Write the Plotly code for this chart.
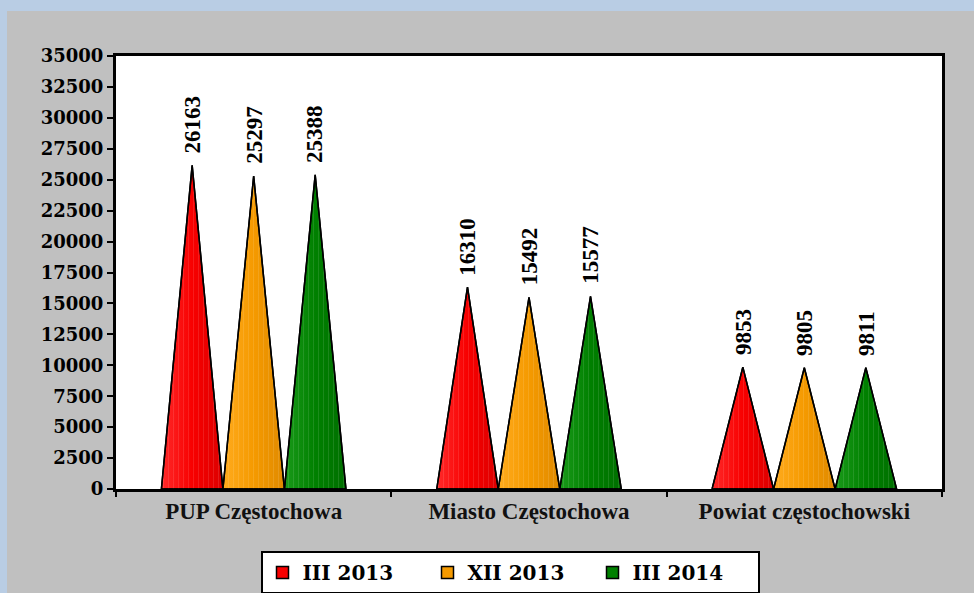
import plotly.graph_objects as go

categories = ["PUP Częstochowa", "Miasto Częstochowa", "Powiat częstochowski"]
series_names = ["III 2013", "XII 2013", "III 2014"]
values_iii_2013 = [26163, 16310, 9853]
values_xii_2013 = [25297, 15492, 9805]
values_iii_2014 = [25388, 15577, 9811]
y_ticks = list(range(0, 35001, 2500))

series_values = [values_iii_2013, values_xii_2013, values_iii_2014]
base_colors = ["#f80000", "#f59a00", "#008000"]
light_colors = ["#ff2a2a", "#ffab1e", "#1a9a1a"]
dark_colors = ["#dc0000", "#e08a00", "#006f00"]

bar_w = 0.2234
offsets = [-bar_w, 0.0, bar_w]

fig = go.Figure()

for s, vals in enumerate(series_values):
    for ci, v in enumerate(vals):
        c = ci + offsets[s]
        xs = [c - bar_w / 2, c, c + bar_w / 2, c - bar_w / 2]
        ys = [0, v, 0, 0]
        fig.add_trace(go.Scatter(
            x=xs, y=ys, mode="lines", fill="toself",
            fillgradient=dict(type="horizontal",
                              colorscale=[[0, light_colors[s]], [0.5, base_colors[s]], [1, dark_colors[s]]]),
            line=dict(color="black", width=1.5),
            showlegend=False, hoverinfo="skip"))
        fig.add_trace(go.Scatter(
            x=xs, y=ys, mode="lines", fill="toself",
            fillcolor="rgba(0,0,0,0)",
            fillpattern=dict(shape="|", fgcolor="rgba(255,255,255,0.35)", bgcolor="rgba(0,0,0,0)",
                             size=5, solidity=0.12),
            line=dict(color="black", width=1.5),
            showlegend=False, hoverinfo="skip"))
        fig.add_annotation(x=c, y=v, xref="x", yref="y", text=str(v), textangle=-90,
                           showarrow=False, yanchor="bottom", xanchor="center", yshift=10,
                           font=dict(family="Liberation Serif", size=23, color="black", weight="bold"))

for s, name in enumerate(series_names):
    fig.add_trace(go.Scatter(
        x=[None], y=[None], mode="markers", name=name,
        marker=dict(symbol="square", size=12, color=base_colors[s], line=dict(color="black", width=1.5))))

L, R, T, B = 116, 32, 56, 104
W, H = 974, 593
pw, ph = W - L - R, H - T - B

def px_x(p):
    return (p - L) / pw

def px_y(p):
    return (H - B - p) / ph

fig.add_shape(type="rect", xref="paper", yref="paper", layer="below",
              x0=px_x(7), x1=px_x(980), y0=px_y(600), y1=px_y(11),
              fillcolor="#c0c0c0", line=dict(width=0))
fig.add_shape(type="rect", xref="paper", yref="paper", layer="below",
              x0=0, x1=1, y0=0, y1=1, fillcolor="white", line=dict(width=0))

fig.update_layout(
    width=W, height=H,
    margin=dict(l=L, r=R, t=T, b=B, autoexpand=False),
    paper_bgcolor="#b9cde4",
    plot_bgcolor="white",
    showlegend=True,
    legend=dict(orientation="h", x=px_x(510), xanchor="center", y=px_y(551), yanchor="top",
                bgcolor="white", bordercolor="black", borderwidth=2,
                font=dict(family="DejaVu Serif", size=20, color="black", weight="bold"),
                entrywidth=120, itemwidth=30, traceorder="normal"),
    xaxis=dict(range=[-0.5, 2.5], tickmode="array", tickvals=[0, 1, 2], ticktext=categories,
               ticks="", showgrid=False, zeroline=False, showline=True, linecolor="black",
               linewidth=2.5, mirror=True, automargin=False,
               tickfont=dict(family="Liberation Serif", size=23, color="#111111", weight="bold"),
               minor=dict(tickmode="array", tickvals=[-0.5, 0.5, 1.5, 2.5], ticks="outside",
                          ticklen=5, tickwidth=2, tickcolor="black", showgrid=False)),
    yaxis=dict(range=[0, 35000], tickmode="array", tickvals=y_ticks, ticktext=[str(t) for t in y_ticks],
               ticks="outside", ticklen=6, tickwidth=2, tickcolor="black",
               showgrid=False, zeroline=False, showline=True, linecolor="black", linewidth=3,
               mirror=True, automargin=False,
               tickfont=dict(family="DejaVu Serif", size=18, color="black", weight="bold")),
)

fig.write_html("out.html", config={"displayModeBar": False},
               post_script="document.body.style.margin='0px';document.body.style.overflow='hidden';")
